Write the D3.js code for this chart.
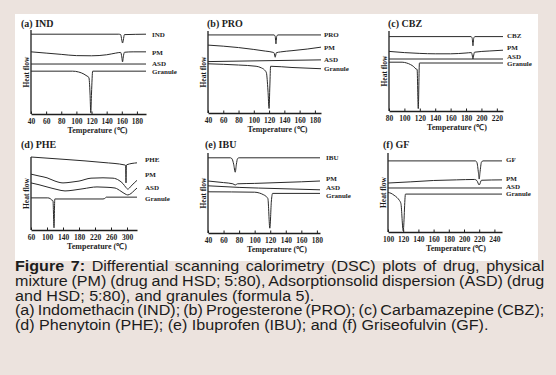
<!DOCTYPE html>
<html><head><meta charset="utf-8">
<script src="https://cdn.jsdelivr.net/npm/d3@7"></script>
<style>
html,body{margin:0;padding:0;background:#ece3de;}
svg{display:block;}
</style></head><body>
<svg id="chart" width="556" height="375"></svg>
<script>
// ---------- DATA (temperature °C, normalised heat flow 0-100) ----------
const seriesNames = ["PM", "ASD", "Granule"];

// (a) Indomethacin
const ticksA = [40, 60, 80, 100, 120, 140, 160, 180];
const domainA = [40, 192];
const indDrug = [[40,95],[156,95],[158.5,94.5],[160,88],[161,84.5],[162,88],[163.5,94.5],[192,95]];
const indPM = [[40,74],[60,72.5],[80,71],[100,69.5],[120,69.3],[140,70.5],[152,72.5],[158.5,73.3],[160,68],[161,62],[162,68],[163.5,73.5],[175,74],[192,74]];
const indASD = [[40,59.5],[192,59.5]];
const indGranule = [[40,51],[95,51],[103,50],[110,47.5],[114,45.2],[116.5,43.5],[118,25],[119,1.5],[120,25],[121.5,51],[192,51]];

// (b) Progesterone
const ticksB = [40, 60, 80, 100, 120, 140, 160, 180];
const domainB = [40, 188];
const proDrug = [[40,95.2],[126.5,95.2],[128,93.5],[129,84.3],[130,93.5],[131.5,95.2],[188,95.2]];
const proPM = [[40,82.8],[60,81.5],[80,79.8],[100,77.5],[115,75.5],[125,74],[126.5,73.5],[128,68],[129.5,73.5],[135,74.5],[150,76],[170,78],[188,80.3]];
const proASD = [[40,62.7],[188,64.8]];
const proGranule = [[40,60],[80,58.5],[103,57],[110,55],[114,52.5],[116.5,49],[118.5,28],[120,5.5],[121,33],[122,57],[150,55.5],[188,54]];

// (c) Carbamazepine
const ticksC = [80, 100, 120, 140, 160, 180, 200, 220];
const domainC = [80, 228];
const cbzDrug = [[80,93],[186.5,93],[188,91],[189,81.5],[190,91],[191.5,93],[228,93]];
const cbzPM = [[80,74.5],[100,73],[120,72],[140,71.5],[160,71.5],[180,72.5],[187,73],[188,70],[189,65],[190,70],[191,73.5],[210,75],[228,76]];
const cbzASD = [[80,65],[228,65]];
const cbzGranule = [[80,61],[97,61],[103,60],[108,58],[112,55.5],[115,52.5],[116.5,52],[118,3],[119.5,60],[228,60]];

// (d) Phenytoin
const ticksD = [60, 100, 140, 180, 220, 260, 300];
const domainD = [60, 325];
const pheDrug = [[60,100],[150,96.5],[240,92.5],[295,89],[296.5,88.5],[297.5,64.5],[298.5,89],[300,89.5],[325,92]];
const phePM = [[60,76.5],[80,74],[100,71.5],[120,67],[140,64.5],[160,65.5],[180,67],[210,71],[240,71.5],[265,71],[280,68],[290,63.5],[297,58.5],[302,56],[310,60],[318,64.5],[325,68]];
const pheASD = [[60,64.5],[80,62],[100,59],[125,55.5],[145,53.5],[165,54.5],[190,56.5],[225,59],[250,58.5],[270,57.5],[285,53],[295,49.5],[302,48],[310,50],[318,54],[325,57.5]];
const pheGranule = [[60,44],[102,44],[108,43],[112,41],[115,40],[117.5,3],[119.5,42.5],[240,42.5],[244,43],[248,45],[325,45]];

// (e) Ibuprofen
const ticksE = [40, 60, 80, 100, 120, 140, 160, 180];
const domainE = [40, 184];
const ibuDrug = [[40,94],[69,94],[71,92.5],[73,86],[75,76],[76.5,86],[78,93],[80,94],[184,94]];
const ibuPM = [[40,65],[60,63],[72,61.5],[75,60],[78,61.5],[100,62],[130,63],[160,64],[184,65]];
const ibuASD = [[40,59],[80,57],[130,55.5],[184,54]];
const ibuGranule = [[40,51.5],[100,51],[106,50],[111,48],[115,45.5],[117,43],[119.5,6],[121.5,40],[123,49.5],[184,49.5]];

// (f) Griseofulvin
const ticksF = [100, 120, 140, 160, 180, 200, 220, 240];
const domainF = [100, 250];
const gfDrug = [[100,90],[215,90],[217,88],[219,75],[220,67],[221,75],[223,88.5],[225,90],[250,90]];
const gfPM = [[100,62],[130,63.5],[160,65.2],[190,66],[214,66.5],[217,65],[220,59.5],[223,65.5],[250,66]];
const gfASD = [[100,55.7],[250,55.7]];
const gfGranule = [[100,50],[104,49],[108,46.5],[112,43.5],[115,40],[117,36],[120,1.5],[123,48],[250,48]];

const captionBold = "Figure 7:";
const captionLines = [
  " Differential scanning calorimetry (DSC) plots of drug, physical",
  "mixture (PM) (drug and HSD; 5:80), Adsorptionsolid dispersion (ASD) (drug",
  "and HSD; 5:80), and granules (formula 5).",
  "(a) Indomethacin (IND); (b) Progesterone (PRO); (c) Carbamazepine (CBZ);",
  "(d) Phenytoin (PHE); (e) Ibuprofen (IBU); and (f) Griseofulvin (GF)."
];

// ---------- LAYOUT ----------
const panels = [
  {title:"(a) IND", drug:"IND", ticks:ticksA, domain:domainA, series:[indDrug,indPM,indASD,indGranule],
   left:31, right:146, top:30, bottom:114, titleX:21, titleY:27, labelX:152, nudge:[0,0.5,-0.5,0.5], xTitleDx:9},
  {title:"(b) PRO", drug:"PRO", ticks:ticksB, domain:domainB, series:[proDrug,proPM,proASD,proGranule],
   left:208, right:321, top:31, bottom:113, titleX:207, titleY:27, labelX:324, nudge:[0,0,0,0], xTitleDx:13},
  {title:"(c) CBZ", drug:"CBZ", ticks:ticksC, domain:domainC, series:[cbzDrug,cbzPM,cbzASD,cbzGranule],
   left:389, right:503, top:31, bottom:111, titleX:388, titleY:27, labelX:507, nudge:[-1.4,-2.6,-2.6,1],
   xTitleDx:11},
  {title:"(d) PHE", drug:"PHE", ticks:ticksD, domain:domainD, series:[pheDrug,phePM,pheASD,pheGranule],
   left:31, right:137, top:157, bottom:230, titleX:21, titleY:148, labelX:145, nudge:[-3,-5.4,0,1.3], xTitleDx:13},
  {title:"(e) IBU", drug:"IBU", ticks:ticksE, domain:domainE, series:[ibuDrug,ibuPM,ibuASD,ibuGranule],
   left:208, right:320, top:153, bottom:233, titleX:205, titleY:148, labelX:326, nudge:[0,-2,-2.7,1.8], xTitleDx:13},
  {title:"(f) GF", drug:"GF", ticks:ticksF, domain:domainF, series:[gfDrug,gfPM,gfASD,gfGranule],
   left:388, right:502, top:153, bottom:232, titleX:383, titleY:148, labelX:506, nudge:[-1,-1.3,-1.7,-0.2], xTitleDx:11}
];

const SERIF = "'Liberation Serif','Times New Roman',serif";
const INK = "#1e1e1e";
const svg = d3.select("#chart");
svg.append("rect").attr("width",556).attr("height",375).attr("fill","#ece3de");
svg.append("rect").attr("x",15).attr("y",14).attr("width",523).attr("height",247).attr("fill","#ffffff");

panels.forEach(p => {
  const x = d3.scaleLinear().domain(p.domain).range([p.left, p.right]);
  const y = d3.scaleLinear().domain([0, 100]).range([p.bottom, p.top]);
  const g = svg.append("g");

  // x axis
  const ax = g.append("g").attr("transform", `translate(0,${p.bottom})`)
    .call(d3.axisBottom(x).tickValues(p.ticks).tickSizeInner(-2.5).tickSizeOuter(0).tickPadding(4.6));
  ax.select(".domain").attr("stroke", INK).attr("stroke-width", 1.3);
  ax.selectAll(".tick line").attr("stroke", INK).attr("stroke-width", 1);
  ax.selectAll(".tick text").attr("fill", INK).style("font-family", SERIF)
    .style("font-weight", "bold").style("font-size", "7.5px");

  // y axis (no ticks)
  g.append("line").attr("x1", p.left).attr("x2", p.left).attr("y1", p.top).attr("y2", p.bottom)
    .attr("stroke", INK).attr("stroke-width", 1.3);

  // curves
  const line = d3.line().x(d => x(d[0])).y(d => y(d[1])).curve(d3.curveMonotoneX);
  const names = [p.drug].concat(seriesNames);
  p.series.forEach((s, i) => {
    g.append("path").attr("d", line(s)).attr("fill", "none")
      .attr("stroke", "#2a2a2a").attr("stroke-width", 1);
    const last = s[s.length - 1];
    g.append("text").attr("x", p.labelX).attr("y", y(last[1]) + p.nudge[i])
      .attr("dy", "0.35em").attr("fill", INK)
      .style("font-family", SERIF).style("font-weight", "bold").style("font-size", "7px")
      .text(names[i]);
  });

  // titles
  g.append("text").attr("x", p.titleX).attr("y", p.titleY).attr("fill", INK)
    .style("font-family", SERIF).style("font-weight", "bold").style("font-size", "10px")
    .text(p.title);
  g.append("text").attr("x", (p.left + p.right) / 2 + p.xTitleDx).attr("y", p.bottom + 18.5)
    .attr("text-anchor", "middle").attr("fill", INK)
    .style("font-family", SERIF).style("font-weight", "bold").style("font-size", "8px")
    .text("Temperature (℃)");
  const cy = (p.top + p.bottom) / 2;
  g.append("text").attr("transform", `translate(${p.left - 5},${cy}) rotate(-90)`)
    .attr("text-anchor", "middle").attr("dy", "0.35em").attr("fill", INK)
    .style("font-family", SERIF).style("font-weight", "bold").style("font-size", "7.5px")
    .text("Heat flow");
});

// ---------- CAPTION ----------
const capX = 15, capW = 530, capBase = 271, capLH = 14.8;
const justify = [true, true, false, true, false];
const targetPlain = {2: 308, 4: 461};
const capG = svg.append("g");
const capTexts = captionLines.map((t, i) => {
  const tx = capG.append("text").attr("x", 0).attr("y", 0).attr("fill", "#1c1c1c")
    .style("font-family", "'Liberation Sans',Arial,sans-serif").style("font-size", "14.5px");
  if (i === 0) tx.append("tspan").style("font-weight", "bold").text(captionBold);
  tx.append("tspan").text(t);
  return tx;
});
// horizontal stretch estimated from the unjustified lines
let ratios = Object.keys(targetPlain).map(k => targetPlain[k] / capTexts[k].node().getComputedTextLength());
const sx = d3.mean(ratios);
capTexts.forEach((tx, i) => {
  const full = (i === 0 ? captionBold : "") + captionLines[i];
  if (justify[i]) {
    const nat = tx.node().getComputedTextLength();
    const spaces = (full.match(/ /g) || []).length;
    tx.style("word-spacing", ((capW / sx - nat) / spaces) + "px");
  }
  tx.attr("transform", `translate(${capX},${capBase + i * capLH}) scale(${sx},1)`);
});
</script>
</body></html>
